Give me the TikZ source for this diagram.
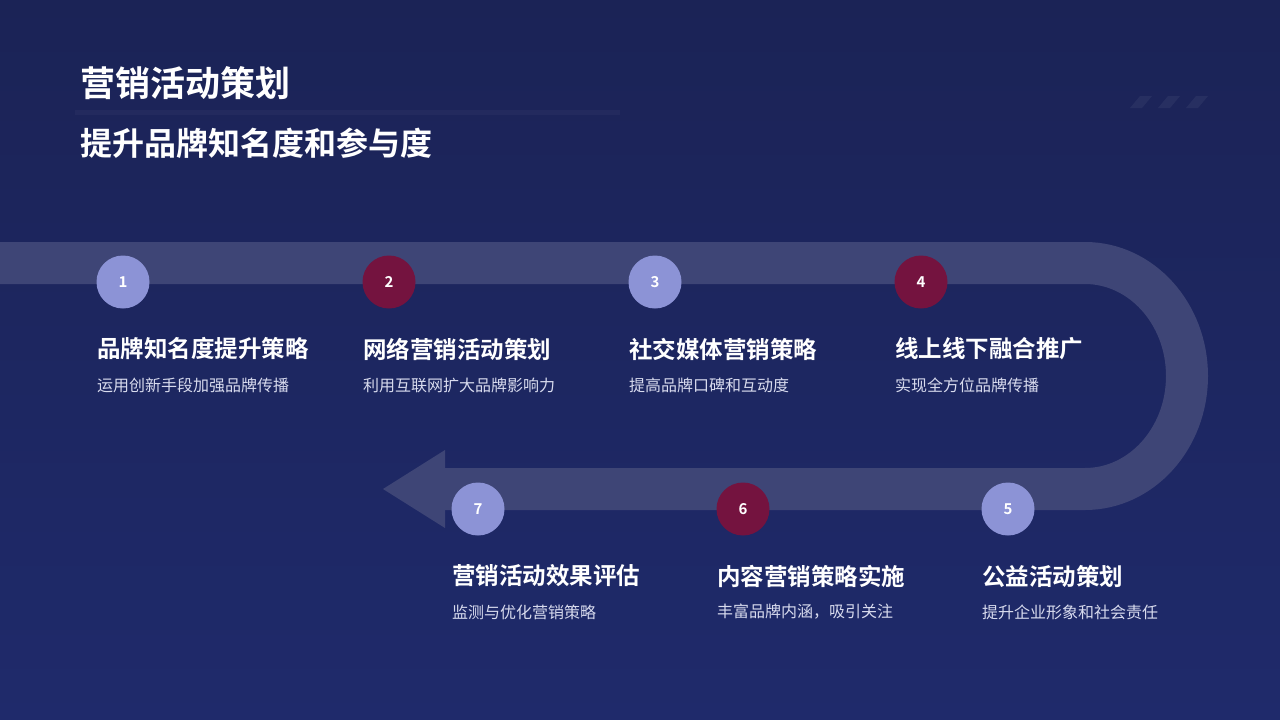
\documentclass[tikz,border=0pt]{standalone}
\usepackage{fontspec}
\setmainfont{Noto Sans CJK SC}
\newfontfamily\cjkb{Noto Sans CJK SC Bold}
\usetikzlibrary{calc}
\definecolor{bgA}{HTML}{1B2356}
\definecolor{bgB}{HTML}{1F2A6B}
\definecolor{band}{HTML}{3E4576}
\definecolor{cl}{HTML}{8C93D6}
\definecolor{cd}{HTML}{74133F}
\definecolor{sub}{HTML}{D8DBEE}
\tikzset{
  num/.style={circle,minimum size=53pt,inner sep=0pt,font=\cjkb\fontsize{15}{15}\selectfont,text=white},
  ttl/.style={anchor=west,inner sep=0pt,text=white,font=\cjkb\fontsize{23.5}{23.5}\selectfont},
  dsc/.style={anchor=west,inner sep=0pt,text=sub,font=\fontsize{16}{16}\selectfont},
}
\begin{document}
\begin{tikzpicture}[x=1pt,y=-1pt]
\shade[top color=bgA,bottom color=bgB] (0,0) rectangle (1280,720);
\useasboundingbox (0,0) rectangle (1280,720);
% decorations
\fill[white,opacity=0.03] (75,110) rectangle (620,115);
\foreach \x in {1130,1158,1186}{\fill[white,opacity=0.05] (\x,108) -- (\x+10,96) -- (\x+22,96) -- (\x+12,108) -- cycle;}
\node[anchor=west,inner sep=0pt,text=white,font=\cjkb\fontsize{35}{35}\selectfont] (t) at (80,83) {营销活动策划};
\node[anchor=west,inner sep=0pt,text=white,font=\cjkb\fontsize{32}{32}\selectfont] (s) at (80,143) {提升品牌知名度和参与度};
% band
\draw[band,line width=42pt] (0,263) -- (1085,263) arc[start angle=-90,end angle=90,x radius=102,y radius=113] -- (445,489);
\fill[band] (445,450) -- (383,489) -- (445,528) -- cycle;
% steps
\foreach \n/\x/\y/\c/\a/\b in {
1/123/282/cl/品牌知名度提升策略/运用创新手段加强品牌传播,
2/389/282/cd/网络营销活动策划/利用互联网扩大品牌影响力,
3/655/282/cl/社交媒体营销策略/提高品牌口碑和互动度,
4/921/282/cd/线上线下融合推广/实现全方位品牌传播,
7/478/509/cl/营销活动效果评估/监测与优化营销策略,
6/743/509/cd/内容营销策略实施/丰富品牌内涵，吸引关注,
5/1008/509/cl/公益活动策划/提升企业形象和社会责任}{
  \node[num,fill=\c] (c\n) at (\x,\y) {\n};
  \node[ttl] (h\n) at (\x-26,\y+67) {\a};
  \node[dsc] (d\n) at (\x-26,\y+103) {\b};
}
\end{tikzpicture}
\end{document}
